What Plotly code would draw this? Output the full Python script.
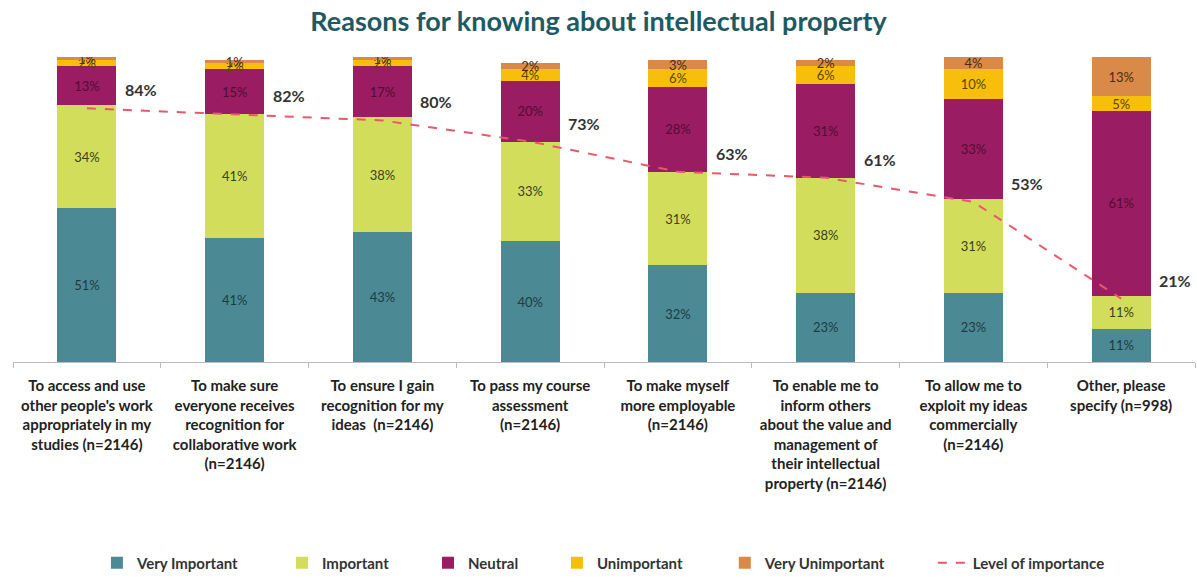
import plotly.graph_objects as go

categories = [
    "To access and use<br>other people's work<br>appropriately in my<br>studies (n=2146)",
    "To make sure<br>everyone receives<br>recognition for<br>collaborative work<br>(n=2146)",
    "To ensure I gain<br>recognition for my<br>ideas  (n=2146)",
    "To pass my course<br>assessment<br>(n=2146)",
    "To make myself<br>more employable<br>(n=2146)",
    "To enable me to<br>inform others<br>about the value and<br>management of<br>their intellectual<br>property (n=2146)",
    "To allow me to<br>exploit my ideas<br>commercially<br>(n=2146)",
    "Other, please<br>specify (n=998)",
]
very_important = [51, 41, 43, 40, 32, 23, 23, 11]
important = [34, 41, 38, 33, 31, 38, 31, 11]
neutral = [13, 15, 17, 20, 28, 31, 33, 61]
unimportant = [2, 2, 2, 4, 6, 6, 10, 5]
very_unimportant = [1, 1, 1, 2, 3, 2, 4, 13]
level = [84, 82, 80, 73, 63, 61, 53, 21]

series = [
    ("Very Important", very_important, "#4B8A95", "#1F3A40"),
    ("Important", important, "#D3DD5C", "#3D3F1A"),
    ("Neutral", neutral, "#9A1C63", "#4F0E33"),
    ("Unimportant", unimportant, "#F7BF0C", "#5A4500"),
    ("Very Unimportant", very_unimportant, "#D98A48", "#4A2C10"),
]

font_family = "Lato, Open Sans, sans-serif"
legend_ids = ["legend", "legend2", "legend3", "legend4", "legend5", "legend6"]
legend_x = [0.0710, 0.2276, 0.3511, 0.4602, 0.6022, 0.7782]

fig = go.Figure()
for i, (name, vals, color, tcolor) in enumerate(series):
    fig.add_trace(go.Bar(
        x=categories, y=vals, name=name, legend=legend_ids[i],
        marker=dict(color=color, line=dict(width=0)),
        text=[f"{v}%" for v in vals], textposition="inside",
        insidetextanchor="middle", constraintext="none",
        textfont=dict(family=font_family, size=13, color=tcolor),
        hoverinfo="skip",
    ))

fig.add_trace(go.Scatter(
    x=categories, y=level, name="Level of importance", mode="lines",
    legend=legend_ids[5],
    line=dict(color="#E9576A", width=2, dash="dash"),
))

for c, v in zip(categories, level):
    fig.add_annotation(
        x=c, y=v, text=f"<b>{v}%</b>", showarrow=False,
        xanchor="left", yanchor="bottom", xshift=36, yshift=7,
        font=dict(family=font_family, size=16, color="#333333"),
    )

legend_style = dict(orientation="h", xanchor="left", y=-0.654, yanchor="middle",
                    font=dict(family=font_family, size=15, color="#333333", weight="bold"),
                    itemwidth=30, bgcolor="rgba(0,0,0,0)")
legends = {}
for lid, lx in zip(legend_ids, legend_x):
    legends[lid] = dict(legend_style, x=lx)

fig.update_layout(
    width=1197, height=580,
    barmode="stack", bargap=0.6,
    plot_bgcolor="white", paper_bgcolor="white",
    margin=dict(l=13, r=2, t=57, b=217),
    title=dict(text="<b>Reasons for knowing about intellectual property</b>",
               x=0.5, xanchor="center", y=0.962, yanchor="middle",
               font=dict(family=font_family, size=27, color="#1E5A64")),
    showlegend=True,
    xaxis=dict(showline=True, linecolor="#BBBBBB", linewidth=1,
               ticks="outside", tickson="boundaries", ticklen=5, tickcolor="#BBBBBB",
               ticklabelstandoff=10, tickangle=0,
               tickfont=dict(family=font_family, size=15, color="#222222", weight="bold"),
               automargin=False),
    yaxis=dict(range=[0, 101], visible=False, showgrid=False),
    **legends,
)

fig.write_html("out.html")
